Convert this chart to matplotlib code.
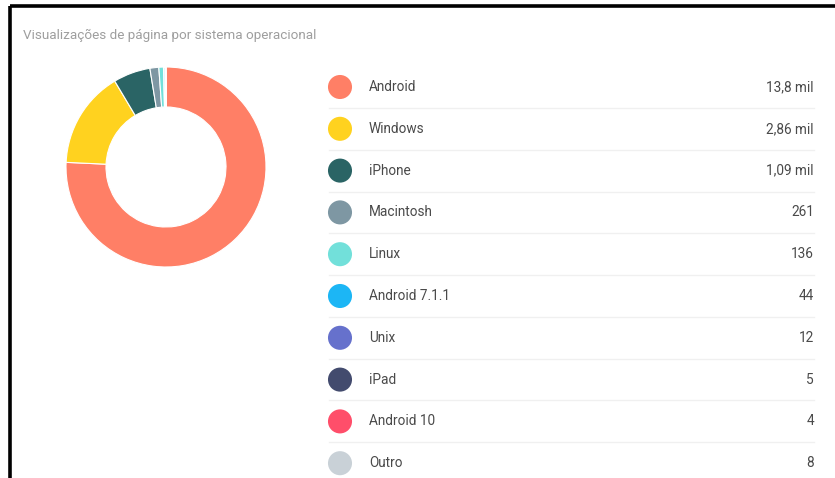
import matplotlib
matplotlib.use("Agg")
import matplotlib.pyplot as plt

title = "Visualizações de página por sistema operacional"
systems = ["Android", "Windows", "iPhone", "Macintosh", "Linux",
           "Android 7.1.1", "Unix", "iPad", "Android 10", "Outro"]
views = [13800, 2860, 1090, 261, 136, 44, 12, 5, 4, 8]
view_labels = ["13,8 mil", "2,86 mil", "1,09 mil", "261", "136",
               "44", "12", "5", "4", "8"]
colors = ["#ff7f66", "#ffd21f", "#2a6465", "#7e97a3", "#72e0da",
          "#1cb6f5", "#6671cc", "#434b6e", "#ff4e6a", "#c9d1d7"]

plt.rcParams['font.family'] = ['Roboto', 'DejaVu Sans']

W, H = 835, 478
fig = plt.figure(figsize=(W / 100, H / 100), dpi=100)
fig.patch.set_facecolor("white")

# overlay axes in pixel coordinates
ov = fig.add_axes([0, 0, 1, 1])
ov.set_xlim(0, W)
ov.set_ylim(H, 0)
ov.axis("off")

# frame (top + left), drawn as figure lines
fig.add_artist(plt.Line2D([10 / W, 1.01], [1 - 6 / H, 1 - 6 / H],
                          color="black", lw=2.6, solid_capstyle="butt"))
fig.add_artist(plt.Line2D([10 / W, 10 / W], [1 - 6 / H, -0.01],
                          color="black", lw=2.6, solid_capstyle="butt"))

ov.text(23, 35, title, fontsize=9.7, color="#9e9e9e", va="center", ha="left")

# donut
cx, cy, r = 166, 167, 100
pax = fig.add_axes([(cx - r) / W, (H - cy - r) / H, 2 * r / W, 2 * r / H])
pax.pie(views, colors=colors, startangle=90, counterclock=False,
        wedgeprops=dict(width=0.4, edgecolor="white", linewidth=0.8))
pax.set_xlim(-1.0, 1.0)
pax.set_ylim(-1.0, 1.0)
pax.set_aspect("equal")
pax.axis("off")

# legend table
y0, dy = 87, 41.8
for i, (name, lab, col) in enumerate(zip(systems, view_labels, colors)):
    y = y0 + i * dy
    ov.scatter([340], [y], s=300, color=col, edgecolors="none", zorder=3)
    ov.text(369, y, name, fontsize=9.8, color="#4a4a4a", va="center", ha="left")
    ov.text(814, y, lab, fontsize=9.8, color="#4a4a4a", va="center", ha="right")
    if i < len(systems) - 1:
        ov.plot([329, 814], [y + dy / 2, y + dy / 2], color="#f0f0f0", lw=1)

fig.savefig("out.png", dpi=100)
